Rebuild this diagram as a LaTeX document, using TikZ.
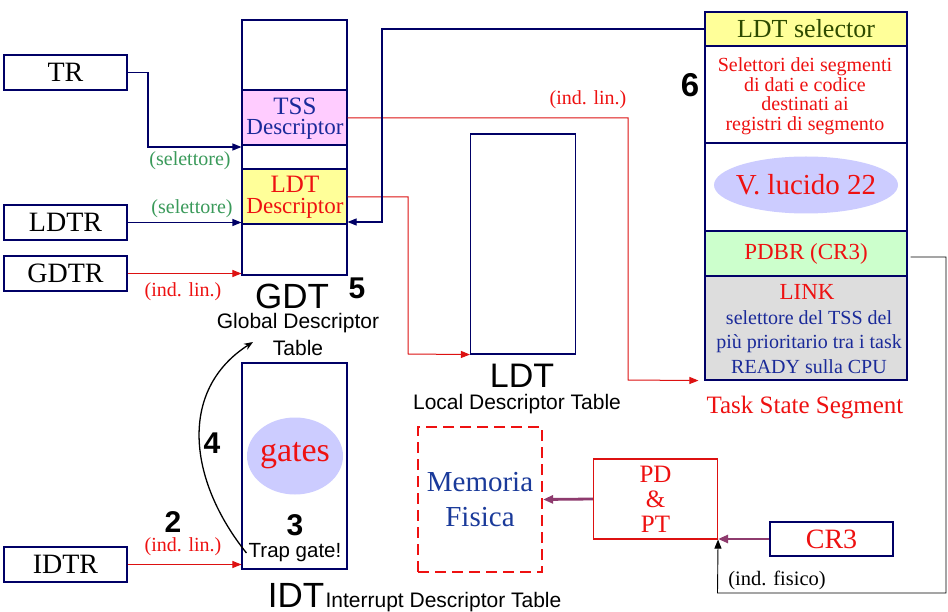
\documentclass[tikz,border=0pt]{standalone}
\usepackage{fontspec}
\setmainfont{Liberation Serif}
\setsansfont{Liberation Sans}
\usetikzlibrary{shapes.geometric,arrows.meta}
\newcommand{\fs}[1]{\fontsize{#1}{#1}\selectfont}
\newcommand{\fsl}[2]{\fontsize{#1}{#2}\selectfont}
\definecolor{navy}{HTML}{000066}
\definecolor{tssblue}{HTML}{1A2A99}
\definecolor{myred}{HTML}{EE1111}
\definecolor{linered}{HTML}{DD1111}
\definecolor{selgreen}{HTML}{3A9A5A}
\definecolor{olive}{HTML}{2E4A00}
\definecolor{purp}{HTML}{8E3B6E}
\definecolor{pinkfill}{HTML}{FFCCFF}
\definecolor{yelfill}{HTML}{FFFF99}
\definecolor{grnfill}{HTML}{CCFFCC}
\definecolor{grayfill}{HTML}{DDDDDD}
\definecolor{lavender}{HTML}{CCCCFF}
\definecolor{memblue}{HTML}{1A3A9A}
\tikzset{
  box/.style={draw=navy, line width=1.1pt, inner sep=0pt},
  reg/.style={box, minimum width=123, minimum height=35, font=\fs{28}},
  col/.style={box, minimum width=105},
  tsscol/.style={box, minimum width=202},
  txt/.style={inner sep=0pt},
  navyarrow/.style={draw=navy, line width=1.1pt, -{Triangle[length=9pt,width=7pt]}},
  redarrow/.style={draw=linered, line width=1pt, -{Triangle[length=9pt,width=7pt]}},
  purparrow/.style={draw=purp, line width=2.8pt, -{Triangle[length=10pt,width=8pt]}},
  blackarrow/.style={draw=black, line width=1.1pt, -{Triangle[length=9pt,width=7pt]}},
  num/.style={txt, font=\sffamily\bfseries\fs{30}},
  sellab/.style={txt, text=selgreen, font=\fs{20}},
  indlab/.style={txt, text=myred, font=\fs{20}}
}
\begin{document}
\begin{tikzpicture}[x=1pt,y=-1pt]
\useasboundingbox[fill=white] (0,0) rectangle (948,612);

% registers
\node[reg] (tr) at (65.5,72.5) {TR};
\node[reg] (ldtr) at (65.5,222.5) {LDTR};
\node[reg] (gdtr) at (65.5,273.5) {GDTR};
\node[reg] (idtr) at (65.5,564.5) {IDTR};

% GDT column
\node[col, minimum height=255] (gdt) at (294.5,147.5) {};
\node[col, minimum height=55, fill=pinkfill] (tssd) at (294.5,117.5) {};
\node[col, minimum height=55, fill=yelfill] (ldtd) at (294.5,196.5) {};
\node[txt, text=tssblue, font=\fs{25}] (tssd1) at (295,106) {TSS};
\node[txt, text=tssblue, font=\fs{23}] (tssd2) at (295,129) {Descriptor};
\node[txt, text=myred, font=\fs{25}] (ldtd1) at (295,184) {LDT};
\node[txt, text=myred, font=\fs{23}] (ldtd2) at (295,208) {Descriptor};

\node[txt, font=\sffamily\fs{35}] (gdtl) at (292,296) {GDT};
\node[num] (n5) at (357,288) {5};
\node[txt, font=\sffamily\fs{21}] (gdtf1) at (298,323) {Global Descriptor};
\node[txt, font=\sffamily\fs{21}] (gdtf2) at (298,348) {Table};

% IDT
\node[col, minimum height=206] (idt) at (294.5,466) {};
\node[ellipse, fill=lavender, minimum width=96, minimum height=77, inner sep=0pt] (gates) at (295,456) {};
\node[txt, text=myred, font=\fs{34}] (gatest) at (295,456) {gates};
\node[num] (n3) at (295,525) {3};
\node[txt, font=\sffamily\fs{20.5}] (trap) at (295,553) {Trap gate!};
\node[txt, font=\sffamily\fs{35}, anchor=base] (idtl) at (296,607) {IDT};
\node[txt, font=\sffamily\fs{21}, anchor=base west] (idtf) at ([xshift=1pt]idtl.base east) {Interrupt Descriptor Table};
\node[num] (n2) at (173,522) {2};
\node[num] (n4) at (212,443) {4};

% LDT
\node[col, minimum height=220] (ldt) at (523,244) {};
\node[txt, font=\sffamily\fs{34}] (ldtl) at (522,376) {LDT};
\node[txt, font=\sffamily\fs{21}] (ldtf) at (517,404) {Local Descriptor Table};

% TSS column
\node[tsscol, minimum height=34, fill=yelfill, text=olive, font=\fs{26}] (ldtsel) at (806,29) {LDT selector};
\node[tsscol, minimum height=97] (selb) at (806,94.5) {};
\node[txt, text=myred, font=\fsl{20}{19.5}, align=center] (selt) at (805,96) {Selettori dei segmenti\\di dati e codice\\destinati ai\\registri di segmento};
\node[tsscol, minimum height=88] (vbox) at (806,187) {};
\node[ellipse, fill=lavender, minimum width=184, minimum height=57, inner sep=0pt] (vluc) at (806,185) {};
\node[txt, text=myred, font=\fs{29}] (vluct) at (806,185) {V. lucido 22};
\node[tsscol, minimum height=45, fill=grnfill, text=myred, font=\fs{23}] (pdbr) at (806,253.5) {PDBR (CR3)};
\node[tsscol, minimum height=104, fill=grayfill] (link) at (806,328) {};
\node[txt, text=myred, font=\fs{23}] (link1) at (807,292) {LINK};
\node[txt, text=tssblue, font=\fs{20}] (link2) at (809,318) {selettore del TSS del};
\node[txt, text=tssblue, font=\fs{20}] (link3) at (809,344) {più prioritario tra i task};
\node[txt, text=tssblue, font=\fs{20}] (link4) at (809,367) {READY sulla CPU};
\node[txt, text=myred, font=\fs{25}] (tssl) at (805,408) {Task State Segment};
\node[num, font=\sffamily\bfseries\fs{33}] (n6) at (690,85) {6};

% memory / paging
\node[draw=myred, line width=2.2pt, dash pattern=on 11pt off 6pt, minimum width=124, minimum height=145, inner sep=0pt, text=memblue, font=\fsl{29}{35}, align=center] (mem) at (480,499.5) {Memoria\\Fisica};
\node[draw=linered, line width=1.1pt, minimum width=124, minimum height=80, inner sep=0pt, text=myred, font=\fsl{25}{25}, align=center] (pd) at (655.5,499) {PD\\\&\\PT};
\node[box, minimum width=123, minimum height=34, text=myred, font=\fs{28}] (cr3) at (831.5,539) {CR3};

% coordinates for routing
\coordinate (c1) at (148,72.5);
\coordinate (c2) at (148,147);
\coordinate (c3) at (382,29);
\coordinate (c4) at (382,222);
\coordinate (c5) at (628,118);
\coordinate (c6) at (628,380);
\coordinate (c7) at (408,197);
\coordinate (c8) at (408,354);
\coordinate (c9) at (946,257);
\coordinate (c10) at (946,593);
\coordinate (c11) at (717.5,593);

% connectors
\draw[redarrow] (tssd.east |- c5) -- (c5) -- (c6) -- ([xshift=-6pt]link.south west);
\draw[redarrow] (ldtd.east |- c7) -- (c7) -- (c8) -- (ldt.south west);
\draw[navyarrow] (tr.east) -- (c1) -- (c2) -- (gdt.west |- c2);
\draw[navyarrow] (ldtr.east) -- (ldtr.east -| gdt.west);
\draw[redarrow] (gdtr.east) -- (gdtr.east -| gdt.west);
\draw[redarrow] (idtr.east) -- (idtr.east -| idt.west);
\draw[navyarrow] (ldtsel.west) -- (c3) -- (c4) -- (gdt.east |- c4);
\draw[blackarrow, line width=0.9pt] ([xshift=3pt]pdbr.east |- c9) -- (c9) -- (c10) -- (c11) -- (pd.south east);
\draw[purparrow] (cr3.west) -- (cr3.west -| pd.east);
\draw[purparrow] (pd.west) -- (mem.east);
\draw[black, line width=1.3pt, -{Stealth[length=9pt,width=7pt]}] ([xshift=-2pt]trap.west) .. controls (188,480) and (178,390) .. (253,342);

% labels on connectors
\node[sellab] (sel1) at (190,161) {(selettore)};
\node[sellab] (sel2) at (192,209) {(selettore)};
\node[indlab] (ind1) at (183,292) {(ind. lin.)};
\node[indlab] (ind2) at (588,100) {(ind. lin.)};
\node[indlab] (ind3) at (183,547) {(ind. lin.)};
\node[txt, font=\fs{20.5}] (indf) at (777,580) {(ind. fisico)};
\end{tikzpicture}
\end{document}
